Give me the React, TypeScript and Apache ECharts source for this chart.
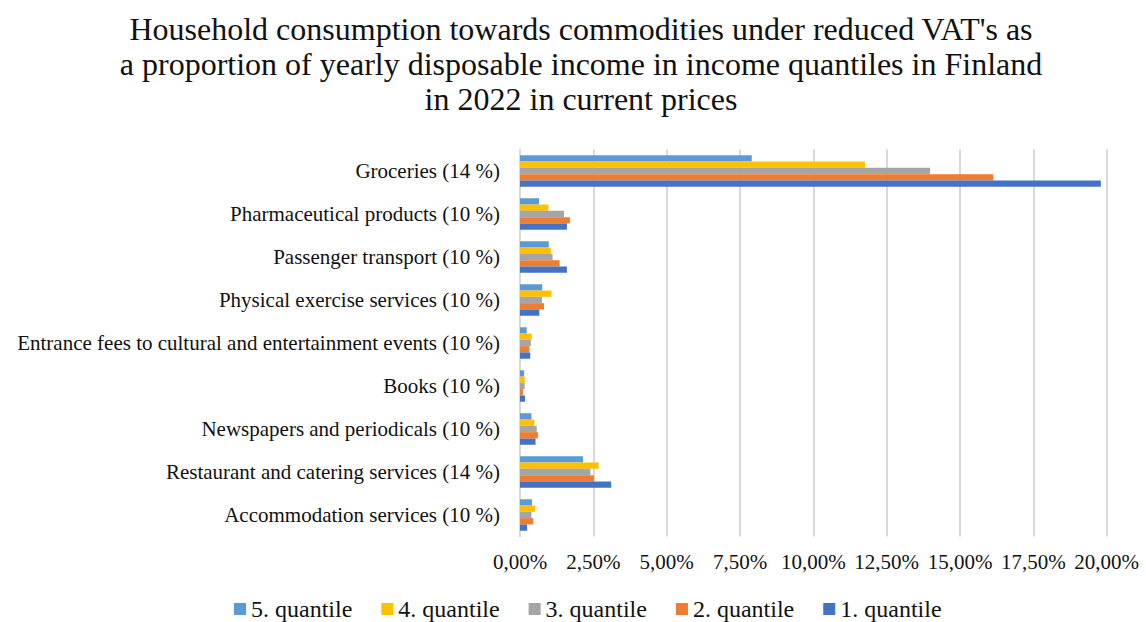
import React, { useEffect, useRef } from "react";
import * as echarts from "echarts";

const categories = [
  "Groceries (14 %)",
  "Pharmaceutical products (10 %)",
  "Passenger transport (10 %)",
  "Physical exercise services (10 %)",
  "Entrance fees to cultural and entertainment events (10 %)",
  "Books (10 %)",
  "Newspapers and periodicals (10 %)",
  "Restaurant and catering services (14 %)",
  "Accommodation services (10 %)",
];

const seriesNames = ["5. quantile", "4. quantile", "3. quantile", "2. quantile", "1. quantile"];
const seriesColors = ["#5B9BD5", "#FFC000", "#A5A5A5", "#ED7D31", "#4472C4"];

const q5 = [7.9, 0.65, 0.98, 0.76, 0.23, 0.14, 0.39, 2.15, 0.41];
const q4 = [11.76, 0.97, 1.05, 1.07, 0.4, 0.16, 0.49, 2.68, 0.51];
const q3 = [13.98, 1.5, 1.11, 0.75, 0.37, 0.16, 0.57, 2.4, 0.39];
const q2 = [16.13, 1.7, 1.35, 0.82, 0.32, 0.1, 0.61, 2.52, 0.45];
const q1 = [19.8, 1.6, 1.6, 0.66, 0.35, 0.17, 0.53, 3.11, 0.24];

const seriesValues = [q5, q4, q3, q2, q1];

const titleText =
  "Household consumption towards commodities under reduced VAT's as\na proportion of yearly disposable income in income quantiles in Finland\nin 2022 in current prices";

const FONT = "'Liberation Serif', 'Times New Roman', serif";

export default function App() {
  const ref = useRef<HTMLDivElement>(null);
  useEffect(() => {
    if (!ref.current) return;
    const chart = echarts.init(ref.current, null, { renderer: "svg" });
    chart.setOption({
      animation: false,
      backgroundColor: "#ffffff",
      title: {
        text: titleText,
        left: 581,
        textAlign: "center",
        top: 11,
        padding: 0,
        textStyle: {
          fontFamily: FONT,
          fontSize: 32,
          fontWeight: "normal",
          color: "#111111",
          lineHeight: 35,
        },
      },
      legend: {
        data: seriesNames,
        top: 597,
        left: 234,
        padding: 0,
        itemWidth: 12,
        itemHeight: 12,
        itemGap: 29,
        icon: "rect",
        textStyle: { fontFamily: FONT, fontSize: 24, color: "#111111" },
      },
      grid: { left: 520, right: 1146 - 1106.7, top: 149.5, bottom: 622 - 536.5, containLabel: false },
      xAxis: {
        type: "value",
        min: 0,
        max: 20,
        interval: 2.5,
        axisLine: { show: false },
        axisTick: { show: false },
        splitLine: { lineStyle: { color: "#d9d9d9", width: 2 } },
        axisLabel: {
          fontFamily: FONT,
          fontSize: 21,
          color: "#111111",
          margin: 15,
          formatter: (v: number) => v.toFixed(2).replace(".", ",") + "%",
        },
      },
      yAxis: {
        type: "category",
        data: categories,
        inverse: true,
        axisLine: { show: true, lineStyle: { color: "#d9d9d9", width: 2 } },
        axisTick: { show: false },
        axisLabel: { fontFamily: FONT, fontSize: 21, color: "#111111", margin: 20 },
      },
      series: seriesNames.map((name, i) => ({
        name,
        type: "bar",
        data: seriesValues[i],
        barWidth: 6.3,
        barGap: "0%",
        itemStyle: { color: seriesColors[i] },
      })),
    });
    return () => chart.dispose();
  }, []);
  return <div ref={ref} style={{ position: "absolute", left: 0, top: 0, width: 1146, height: 622 }} />;
}
